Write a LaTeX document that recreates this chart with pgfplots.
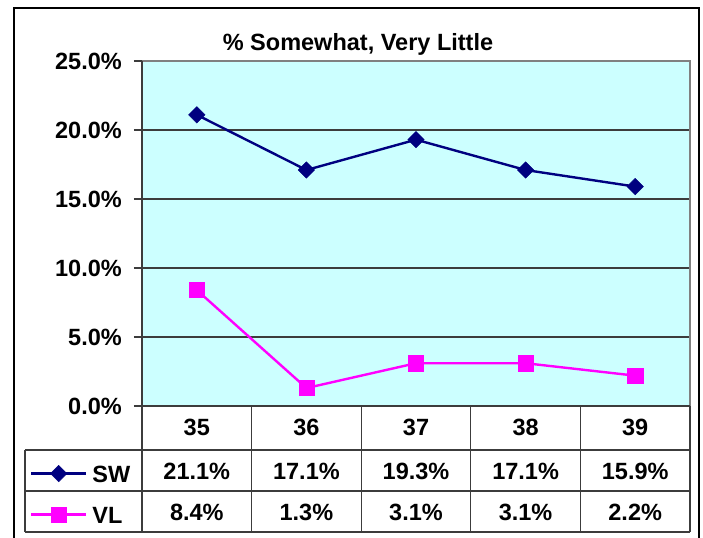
\documentclass[border=0pt]{standalone}
\usepackage{pgfplots}
\pgfplotsset{compat=1.18}
\usepackage{pgfplotstable}
\usepackage{fontspec}
\setmainfont{Liberation Sans}
\definecolor{plotbg}{RGB}{204,255,255}
\definecolor{swblue}{RGB}{0,0,128}
\definecolor{vlpink}{RGB}{255,0,255}
\definecolor{gridc}{RGB}{60,60,60}
\definecolor{borderg}{RGB}{128,128,128}
\newcommand{\bigf}{\bfseries\fontsize{23.5bp}{28bp}\selectfont}

\pgfplotstableread{
x wave sw vl
1 35 21.1 8.4
2 36 17.1 1.3
3 37 19.3 3.1
4 38 17.1 3.1
5 39 15.9 2.2
}\datatable

\begin{document}
\begin{tikzpicture}
\useasboundingbox (0bp,0bp) rectangle (703bp,-538bp);
\fill[white] (0bp,0bp) rectangle (703bp,-538bp);
\begin{axis}[
  at={(142bp,-406bp)}, anchor=south west,
  scale only axis, width=548bp, height=345bp,
  xmin=0.5, xmax=5.5, ymin=0, ymax=25,
  xtick=\empty,
  ytick={0,5,10,15,20,25},
  yticklabels={0.0\%,5.0\%,10.0\%,15.0\%,20.0\%,25.0\%},
  ytick pos=left,
  ymajorgrids, grid style={gridc, line width=1.5bp},
  tick align=outside, major tick length=8bp,
  ytick style={gridc, line width=1.5bp},
  yticklabel style={font=\bigf, anchor=east, inner sep=0pt, xshift=-12bp},
  axis line style={draw=none},
  axis background/.style={fill=plotbg},
  clip=false,
  legend style={at={(axis description cs:-0.2044,-0.1365)}, anchor=north west,
    draw=none, fill=none, inner sep=0pt, outer sep=0pt, row sep=0pt, column sep=5bp,
    font=\bigf, nodes={inner sep=0pt, text height=29bp, text depth=12bp}},
  legend cell align=left,
  legend image code/.code={\draw[mark repeat=2, mark phase=2] plot coordinates {(0bp,0bp) (27.5bp,0bp) (55bp,0bp)};},
]
\addplot[swblue, line width=2.4bp, mark=square*, mark size=5.8bp, mark options={rotate=45, fill=swblue, draw=swblue, line width=0.5bp}] table[x=x, y=sw] {\datatable};
\addlegendentry{SW}
\addplot[vlpink, line width=2.4bp, mark=square*, mark size=7.6bp, mark options={fill=vlpink, draw=vlpink, line width=0.5bp}] table[x=x, y=vl] {\datatable};
\addlegendentry{VL}
\end{axis}
% plot area border
\draw[borderg, line width=2bp] (142bp,-61bp) -- (690bp,-61bp) -- (690bp,-406bp);
\draw[gridc, line width=1.5bp] (142bp,-61bp) -- (142bp,-532bp);
\draw[gridc, line width=1.5bp] (142bp,-406bp) -- (690bp,-406bp);
% table lines
\begin{scope}[gridc, line width=1.2bp]
\draw (25bp,-450bp) -- (690bp,-450bp);
\draw (25bp,-491bp) -- (690bp,-491bp);
\draw (25bp,-532bp) -- (690bp,-532bp);
\draw (25bp,-450bp) -- (25bp,-532bp);
\foreach \xx in {251.6,361.2,470.8,580.4,690} \draw (\xx bp,-406bp) -- (\xx bp,-532bp);
\end{scope}
% table text
\foreach \xx/\lab in {196.8/35,306.4/36,416/37,525.6/38,635.2/39}
  \node[anchor=base, inner sep=0pt, font=\bigf] at (\xx bp,-435bp) {\lab};
\foreach \xx/\lab in {196.8/21.1,306.4/17.1,416/19.3,525.6/17.1,635.2/15.9}
  \node[anchor=base, inner sep=0pt, font=\bigf] at (\xx bp,-479bp) {\lab\%};
\foreach \xx/\lab in {196.8/8.4,306.4/1.3,416/3.1,525.6/3.1,635.2/2.2}
  \node[anchor=base, inner sep=0pt, font=\bigf] at (\xx bp,-520bp) {\lab\%};
% title
\node[anchor=base, inner sep=0pt, font=\bigf] at (358bp,-50bp) {\% Somewhat, Very Little};
% outer frame
\draw[black, line width=1.5bp] (14bp,-545bp) -- (14bp,-8bp) -- (699bp,-8bp) -- (699bp,-545bp);
\end{tikzpicture}
\end{document}
